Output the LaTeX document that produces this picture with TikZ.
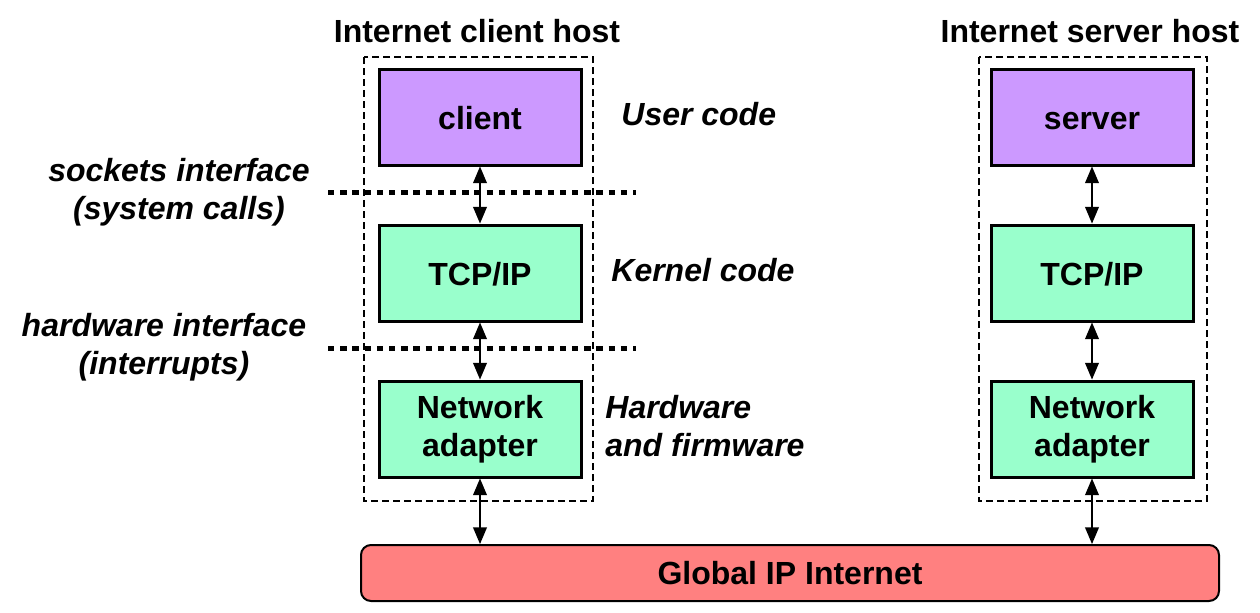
\documentclass[tikz,border=0pt]{standalone}
\usepackage{fontspec}
\setmainfont{Liberation Sans}
\usepackage{tikz}
\usetikzlibrary{arrows,positioning}

\begin{document}
\begin{tikzpicture}[x=0.5pt,y=-0.5pt,
  every node/.style={font=\bfseries\fontsize{16}{19}\selectfont},
  layerbox/.style={draw=black,line width=1.5pt,minimum width=101pt,minimum height=48pt,align=center},
  oneline/.style={text height=12pt,text depth=0pt},
  userbox/.style={layerbox,oneline,fill=userColor},
  kernelbox/.style={layerbox,fill=kernelColor},
  netbox/.style={draw=black,line width=1pt,rounded corners=5pt,fill=netColor,minimum width=429pt,minimum height=28pt},
  hostbox/.style={line width=1pt,dash pattern=on 3.5pt off 2pt},
  ifline/.style={line width=2.5pt,dash pattern=on 3.2pt off 2.9pt},
  link/.style={<->,>=triangle 45,line width=0.9pt},
  label/.style={inner sep=0pt,align=center,font=\bfseries\itshape\fontsize{16}{19}\selectfont},
  region/.style={label,anchor=west,align=left}]
\useasboundingbox (0,0) rectangle (1260,612);
\definecolor{userColor}{RGB}{204,153,255}
\definecolor{kernelColor}{RGB}{153,255,204}
\definecolor{netColor}{RGB}{255,128,128}
% hosts
\draw[hostbox] (364,57) rectangle (593,501);
\draw[hostbox] (979,57) rectangle (1207,501);
\node (ctitle) at (477,31) {Internet client host};
\node (stitle) at (1090,31) {Internet server host};
% client side
\node[userbox] (client) at (480,117) {client};
\node[kernelbox,oneline,below=28.5pt of client] (ctcp) {TCP/IP};
\node[kernelbox,below=28.5pt of ctcp] (cnic) {Network\\adapter};
% server side
\node[userbox] (server) at (1092,117) {server};
\node[kernelbox,oneline,below=28.5pt of server] (stcp) {TCP/IP};
\node[kernelbox,below=28.5pt of stcp] (snic) {Network\\adapter};
% network
\node[netbox] (inet) at (790,573) {Global IP Internet};
% interfaces
\draw[ifline] (328,192) -- (636,192);
\draw[ifline] (328,348) -- (636,348);
\node[label] (sock) at (179,192) {sockets interface\\(system calls)};
\node[label] (hwif) at (164,347) {hardware interface\\(interrupts)};
\node[region] (user) at (621,114) {User code};
\node[region] (kern) at (611,270) {Kernel code};
\node[region] (hw) at (605,426) {Hardware\\and firmware};
% links
\foreach \a/\b in {client/ctcp,ctcp/cnic,server/stcp,stcp/snic}
  \draw[link] (\a) -- (\b);
\draw[link] (cnic) -- (cnic |- inet.north);
\draw[link] (snic) -- (snic |- inet.north);
\end{tikzpicture}
\end{document}
